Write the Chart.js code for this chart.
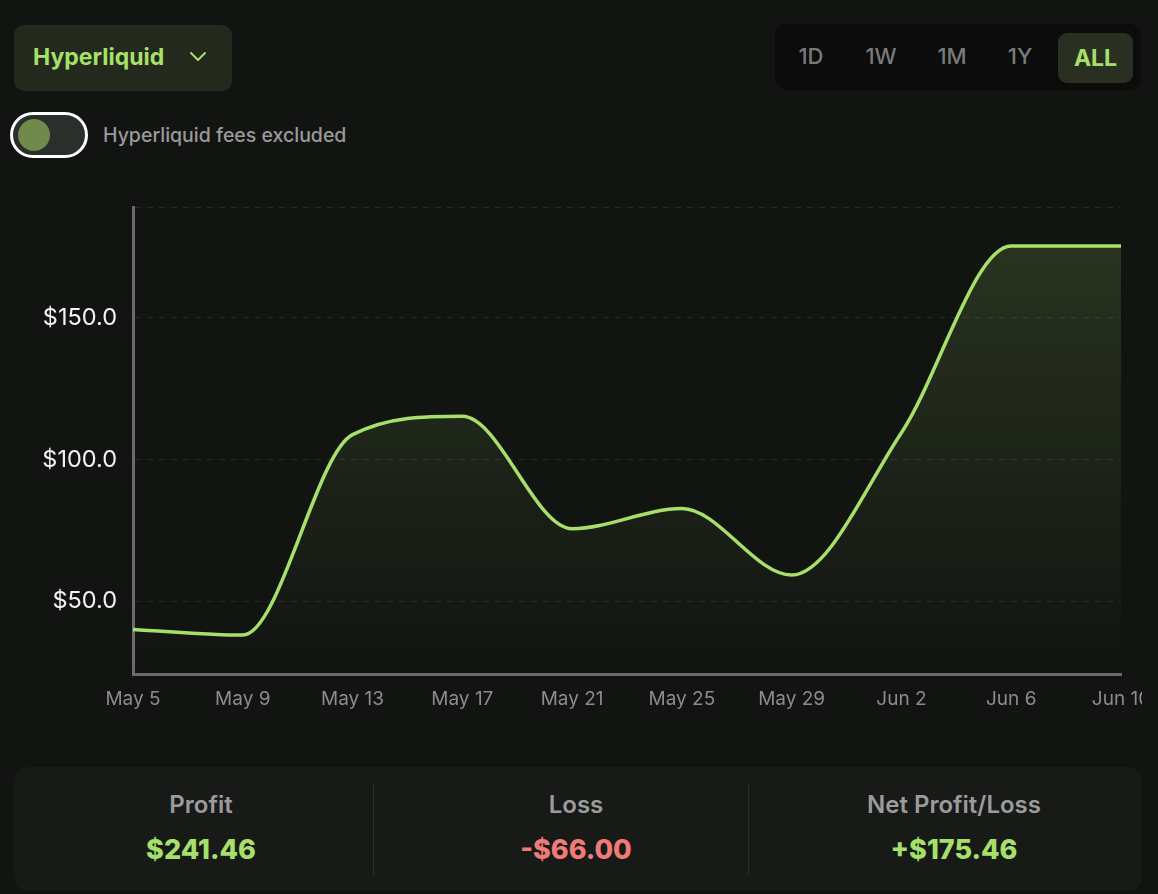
<!DOCTYPE html>
<html>
<head>
<meta charset="utf-8">
<style>
  html, body { margin: 0; padding: 0; background: #121412; width: 1158px; height: 894px; overflow: hidden; font-family: Inter, "Noto Sans", sans-serif; }
  .dropdown { position: absolute; left: 14px; top: 25px; width: 218px; height: 66px; background: #23291d; border-radius: 10px; }
  .dropdown span { position: absolute; left: 19px; top: 18px; font-size: 23px; font-weight: 700; color: #a6e06a; }
  .dropdown svg { position: absolute; left: 174px; top: 26px; }
  .toggle { position: absolute; left: 10px; top: 112px; width: 72px; height: 40px; border: 3px solid #fff; border-radius: 23px; background: #2b2f2b; }
  .toggle .knob { position: absolute; left: 5px; top: 4px; width: 32px; height: 32px; border-radius: 50%; background: #6f8a4a; }
  .toggle-label { position: absolute; left: 103px; top: 123px; font-size: 19.5px; color: #9a9a9a; font-weight: 500; }
  .tabs { position: absolute; left: 775px; top: 24px; width: 366px; height: 66px; background: #0b0c0b; border-radius: 12px; }
  .tab { position: absolute; top: 19px; font-size: 22px; color: #7a7a7a; font-weight: 500; transform: translateX(-50%); }
  .tab.active { position: absolute; left: 283px; top: 9px; width: 75px; height: 50px; transform: none; background: #2a3021; border-radius: 9px; color: #a6e06a; font-weight: 700; font-size: 23px; text-align: center; line-height: 50px; }
  .chart-wrap { position: absolute; left: 0; top: 190px; width: 1142px; height: 540px; }
  .stats { position: absolute; left: 14px; top: 767px; width: 1128px; height: 124px; background: #181a18; border-radius: 14px; }
  .col { position: absolute; top: 0; width: 360px; height: 124px; text-align: center; }
  .col .lbl { position: absolute; left: 0; right: 0; top: 23px; font-size: 24px; font-weight: 600; color: #9b9b9b; }
  .col .val { position: absolute; left: 0; right: 0; top: 66px; font-size: 27px; font-weight: 800; }
  .divider { position: absolute; top: 16px; width: 1px; height: 92px; background: #2c2e2c; }
</style>
</head>
<body>
<div class="dropdown"><span>Hyperliquid</span>
  <svg width="20" height="12" viewBox="0 0 20 12"><path d="M3 2 L10 9 L17 2" fill="none" stroke="#a6e06a" stroke-width="2" stroke-linecap="round" stroke-linejoin="round"/></svg>
</div>
<div class="toggle"><div class="knob"></div></div>
<div class="toggle-label">Hyperliquid fees excluded</div>
<div class="tabs">
  <div class="tab" style="left:36px">1D</div>
  <div class="tab" style="left:106px">1W</div>
  <div class="tab" style="left:177px">1M</div>
  <div class="tab" style="left:245px">1Y</div>
  <div class="tab active">ALL</div>
</div>
<div class="chart-wrap"><canvas id="pnlChart" width="1142" height="540"></canvas></div>
<div class="stats">
  <div class="col" style="left:7px"><div class="lbl">Profit</div><div class="val" style="color:#a6e06a">$241.46</div></div>
  <div class="divider" style="left:359px"></div>
  <div class="col" style="left:382px"><div class="lbl">Loss</div><div class="val" style="color:#f07a78">-$66.00</div></div>
  <div class="divider" style="left:734px"></div>
  <div class="col" style="left:760px"><div class="lbl">Net Profit/Loss</div><div class="val" style="color:#a6e06a">+$175.46</div></div>
</div>

<script src="https://cdn.jsdelivr.net/npm/chart.js"></script>
<script>
const dateLabels = ['May 5', 'May 9', 'May 13', 'May 17', 'May 21', 'May 25', 'May 29', 'Jun 2', 'Jun 6', 'Jun 10'];
const pnlValues = [40.0, 38.0, 108.8, 115.3, 75.6, 82.7, 59.2, 109.5, 175.46, 175.46];

const lo = Math.min(...pnlValues);
const hi = Math.max(...pnlValues);
const pad = (hi - lo) * 0.1;

const ctx = document.getElementById('pnlChart').getContext('2d');

function areaFill(context) {
    const area = context.chart.chartArea;
    if (!area) return 'rgba(166, 224, 106, 0.1)';
    const g = context.chart.ctx.createLinearGradient(0, area.top, 0, area.bottom);
    g.addColorStop(0, 'rgba(166, 224, 106, 0.17)');
    g.addColorStop(1, 'rgba(166, 224, 106, 0.0)');
    return g;
}

new Chart(ctx, {
    type: 'line',
    data: {
        labels: dateLabels,
        datasets: [{
            data: pnlValues,
            borderColor: '#a6e06a',
            borderWidth: 3.5,
            backgroundColor: areaFill,
            fill: 'start',
            cubicInterpolationMode: 'monotone',
            pointRadius: 0,
        }],
    },
    options: {
        responsive: false,
        animation: false,
        layout: { padding: { top: 17, right: 21, left: 0, bottom: 0 } },
        plugins: { legend: { display: false }, tooltip: { enabled: false } },
        scales: {
            x: {
                offset: false,
                grid: { display: false, drawTicks: false },
                border: { color: '#6b6b6b', width: 3 },
                ticks: { color: '#8c8c8c', font: { family: 'Inter', size: 19 }, padding: 14, maxRotation: 0, autoSkip: false },
                afterFit: (s) => { s.paddingRight = 0; s.paddingLeft = 0; s.height = 56; },
            },
            y: {
                min: lo - pad,
                max: hi + pad,
                grid: { color: 'rgba(255,255,255,0.09)', drawTicks: false, lineWidth: 1 },
                border: { color: '#6b6b6b', width: 3, dash: [6, 6] },
                ticks: {
                    stepSize: 50,
                    color: '#f2f2f2',
                    font: { family: 'Inter', size: 23.5 },
                    padding: 16,
                    callback: (v) => (v % 50 === 0 ? '$' + v.toFixed(1) : ''),
                },
                afterFit: (s) => { s.width = 133; s.paddingTop = 0; s.paddingBottom = 0; },
            },
        },
    },
});
</script>
</body>
</html>
